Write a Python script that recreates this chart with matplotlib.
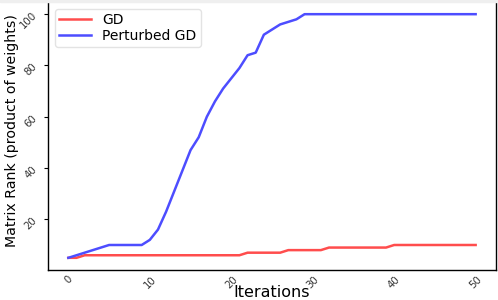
import matplotlib
matplotlib.use("Agg")
import matplotlib.pyplot as plt
from matplotlib.patches import Rectangle

iterations = list(range(51))
gd = [5, 5, 6, 6, 6, 6, 6, 6, 6, 6,
      6, 6, 6, 6, 6, 6, 6, 6, 6, 6,
      6, 6, 7, 7, 7, 7, 7, 8, 8, 8,
      8, 8, 9, 9, 9, 9, 9, 9, 9, 9,
      10, 10, 10, 10, 10, 10, 10, 10, 10, 10, 10]
perturbed = [5, 6, 7, 8, 9, 10, 10, 10, 10, 10,
             12, 16, 23, 31, 39, 47, 52, 60, 66, 71,
             75, 79, 84, 85, 92, 94, 96, 97, 98, 100,
             100, 100, 100, 100, 100, 100, 100, 100, 100, 100,
             100, 100, 100, 100, 100, 100, 100, 100, 100, 100, 100]
x_ticks = [0, 10, 20, 30, 40, 50]
y_ticks = [20, 40, 60, 80, 100]

fig = plt.figure(figsize=(4.98, 3.0), dpi=100)
ax = fig.add_axes([48/498, 30/300, 448/498, 268/300])
fig.patches.append(Rectangle((0, 298/300), 1, 2/300, transform=fig.transFigure,
                             color="#efefef", zorder=0))

ax.plot(iterations, gd, color="#ff4d4d", lw=1.8, label="GD")
ax.plot(iterations, perturbed, color="#4d4dff", lw=1.8, label="Perturbed GD")

ax.set_xticks(x_ticks)
ax.set_yticks(y_ticks)
ax.tick_params(axis="x", labelrotation=45, labelsize=7.3, length=0, colors="#333333", pad=3)
ax.tick_params(axis="y", labelrotation=45, labelsize=7.3, length=3, colors="#333333")
ax.tick_params(axis="both", which="both", color="black")
ax.spines["top"].set_visible(False)
for s in ["left", "bottom", "right"]:
    ax.spines[s].set_color("black")
    ax.spines[s].set_linewidth(1.0)

ax.set_xlabel("Iterations", fontsize=11.5, va="baseline")
ax.xaxis.set_label_coords(0.5, -(297 - 270) / 268)
ax.set_ylabel("Matrix Rank (product of weights)", fontsize=10.2, va="center")
ax.yaxis.set_label_coords((12 - 48) / 448, 0.52)

ax.legend(loc="upper left", fontsize=10, handlelength=2.3, frameon=True,
          edgecolor="#dddddd", fancybox=True, borderaxespad=0.5,
          labelspacing=0.1, borderpad=0.3, handletextpad=0.8)

fig.savefig("out.png", dpi=100)
